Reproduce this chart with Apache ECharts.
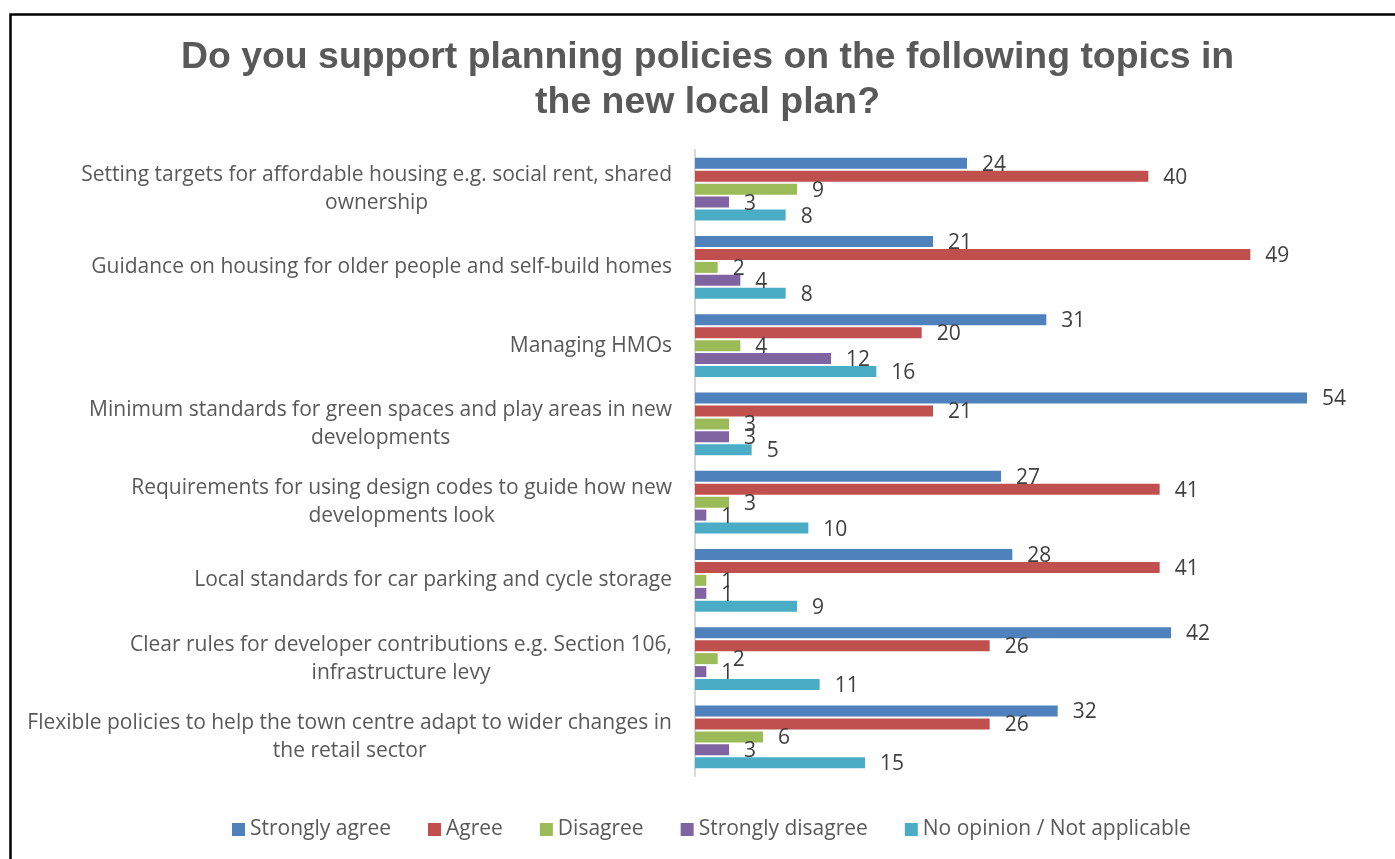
<!DOCTYPE html>
<html>
<head>
<meta charset="utf-8">
<script src="https://cdn.jsdelivr.net/npm/echarts@6/dist/echarts.min.js"></script>
<style>
html,body{margin:0;padding:0;background:#fff;}
#chart{width:1395px;height:859px;}
</style>
</head>
<body>
<div id="chart"></div>
<script>
const categories = [
  "Setting targets for affordable housing e.g. social rent, shared\nownership",
  "Guidance on housing for older people and self-build homes",
  "Managing HMOs",
  "Minimum standards for green spaces and play areas in new\ndevelopments",
  "Requirements for using design codes to guide how new\ndevelopments look",
  "Local standards for car parking and cycle storage",
  "Clear rules for developer contributions e.g. Section 106,\ninfrastructure levy",
  "Flexible policies to help the town centre adapt to wider changes in\nthe retail sector"
];
const seriesNames = ["Strongly agree", "Agree", "Disagree", "Strongly disagree", "No opinion / Not applicable"];
const stronglyAgree = [24, 21, 31, 54, 27, 28, 42, 32];
const agree = [40, 49, 20, 21, 41, 41, 26, 26];
const disagree = [9, 2, 4, 3, 3, 1, 2, 6];
const stronglyDisagree = [3, 4, 12, 3, 1, 1, 1, 3];
const noOpinion = [8, 8, 16, 5, 10, 9, 11, 15];
const titleLines = ["Do you support planning policies on the following topics in", "the new local plan?"];

const colors = ["#4F81BD", "#C0504D", "#9BBB59", "#8064A2", "#4BACC6"];
const dataSets = [stronglyAgree, agree, disagree, stronglyDisagree, noOpinion];
const FONT = "Open Sans";
const FS = 21;
const TFS = 37.4;

const centered = lines => lines.map(l => '{c|' + l + '}').join('\n');

const chart = echarts.init(document.getElementById('chart'), null, {renderer: 'canvas'});
chart.setOption({
  animation: false,
  backgroundColor: '#fff',
  color: colors,
  graphic: [{
    type: 'rect', left: 8, top: 12, silent: true,
    shape: {x: 0, y: 0, width: 1420, height: 880},
    style: {fill: 'none', stroke: '#000', lineWidth: 2.5}
  }],
  title: {
    text: centered(titleLines),
    left: 176, top: 30,
    textStyle: {
      fontFamily: 'Liberation Sans', fontWeight: 'bold', fontSize: TFS, color: '#595959', lineHeight: 45,
      rich: {c: {align: 'center', fontFamily: 'Liberation Sans', fontWeight: 'bold', fontSize: TFS, color: '#595959', lineHeight: 45}}
    }
  },
  legend: {
    bottom: 14, left: 227,
    itemWidth: 13, itemHeight: 13, itemGap: 37, icon: 'rect',
    textStyle: {fontFamily: FONT, fontSize: FS, color: '#595959'},
    data: seriesNames
  },
  grid: {left: 695, right: 20, top: 150, bottom: 83, containLabel: false},
  xAxis: {
    type: 'value', min: 0, max: 60,
    axisLabel: {show: false}, axisLine: {show: false}, axisTick: {show: false}, splitLine: {show: false}
  },
  yAxis: {
    type: 'category', data: categories, inverse: true,
    axisLine: {show: true, lineStyle: {color: '#d9d9d9', width: 2}},
    axisTick: {show: false},
    axisLabel: {
      margin: 23,
      fontFamily: FONT, fontSize: FS, color: '#595959', lineHeight: 28,
      formatter: v => centered(v.split('\n')),
      rich: {c: {align: 'center', fontFamily: FONT, fontSize: FS, color: '#595959', lineHeight: 28}}
    }
  },
  series: dataSets.map((d, i) => ({
    name: seriesNames[i], type: 'bar', data: d,
    barWidth: 11, barGap: '18%',
    itemStyle: {color: colors[i]},
    label: {show: true, position: 'right', distance: 15, fontFamily: FONT, fontSize: FS, color: '#404040', offset: [0, 1.5]}
  }))
});
</script>
</body>
</html>
